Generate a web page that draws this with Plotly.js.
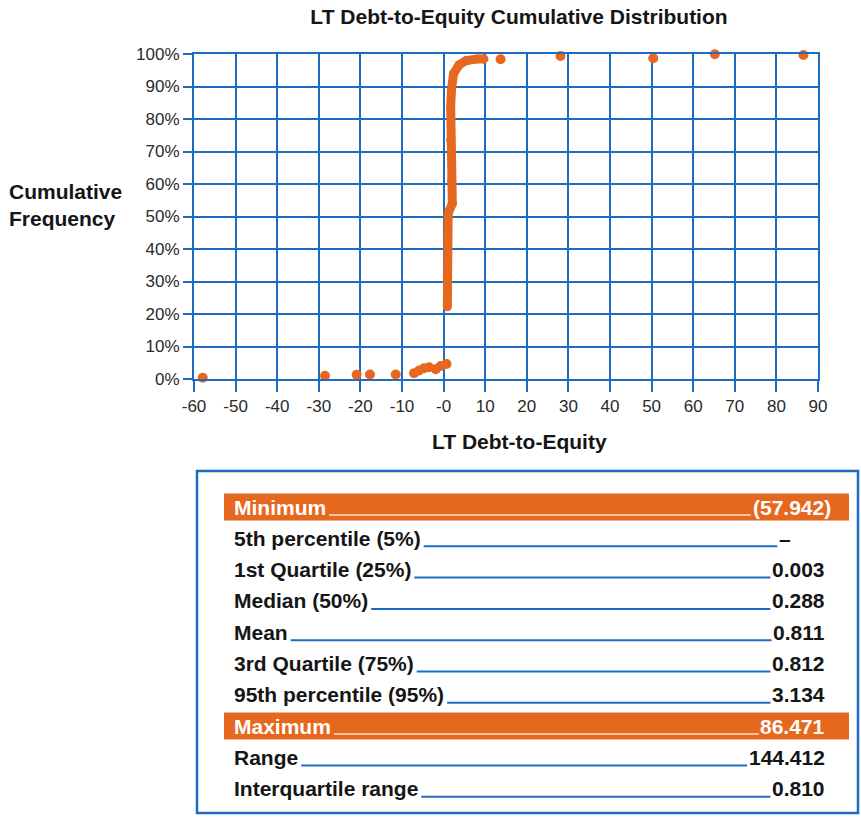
<!DOCTYPE html>
<html>
<head>
<meta charset="utf-8">
<script src="https://cdn.plot.ly/plotly-3.0.1.min.js"></script>
<style>
html,body{margin:0;padding:0;background:#ffffff;}
#chart{width:861px;height:817px;}
</style>
</head>
<body>
<div id="chart"></div>
<script>
// ---------- Data ----------
// Isolated points of the cumulative distribution
const tailX = [-57.9, -28.5, -20.9, -17.7, -11.5, 13.7, 28.1, 50.4, 65.2, 86.5];
const tailY = [0.004, 0.010, 0.013, 0.014, 0.014, 0.984, 0.994, 0.987, 0.999, 0.997];
// Small cluster just below zero
const lowX = [-7.1, -5.9, -4.7, -3.5, -1.9, -0.7, 0.7];
const lowY = [0.018, 0.026, 0.033, 0.036, 0.030, 0.040, 0.046];
// Dense part of the curve near zero
const coreX = [0.9, 0.9, 0.9, 1.1, 2.1, 1.9, 1.7, 1.7, 1.9, 2.4, 3.7, 5.3, 8.1, 9.7];
const coreY = [0.222, 0.325, 0.428, 0.510, 0.540, 0.610, 0.735, 0.838, 0.890, 0.940, 0.966, 0.979, 0.985, 0.985];

// Axis ticks
const xTickVals = [-60, -50, -40, -30, -20, -10, 0, 10, 20, 30, 40, 50, 60, 70, 80, 90];
const xTickText = ['-60', '-50', '-40', '-30', '-20', '-10', '-0', '10', '20', '30', '40', '50', '60', '70', '80', '90'];
const yTickVals = [0, 0.1, 0.2, 0.3, 0.4, 0.5, 0.6, 0.7, 0.8, 0.9, 1.0];
const yTickText = ['0%', '10%', '20%', '30%', '40%', '50%', '60%', '70%', '80%', '90%', '100%'];

// Summary statistics table
const statLabels = ['Minimum', '5th percentile (5%)', '1st Quartile (25%)', 'Median (50%)', 'Mean',
                    '3rd Quartile (75%)', '95th percentile (95%)', 'Maximum', 'Range', 'Interquartile range'];
const statValues = ['(57.942)', '–', '0.003', '0.288', '0.811', '0.812', '3.134', '86.471', '144.412', '0.810'];
const highlightRows = ['Minimum', 'Maximum'];

// ---------- Styling / layout ----------
const W = 861, H = 817;
const M = {l: 194, r: 43, t: 54, b: 438};
const plotW = W - M.l - M.r, plotH = H - M.t - M.b;
const px2x = p => (p - M.l) / plotW;
const py2y = p => (H - M.b - p) / plotH;

const BLUE = '#1d6cc3';
const ORANGE = '#e6681f';
const FONT = "'Liberation Sans', Arial, Helvetica, sans-serif";
const TXT = '#151515';
const BSIZE = 21;

const ctx = document.createElement('canvas').getContext('2d');
ctx.font = "bold " + BSIZE + "px 'Liberation Sans'";
const tw = s => ctx.measureText(s).width;

const traces = [
  {x: coreX, y: coreY, type: 'scatter', mode: 'lines+markers', cliponaxis: false,
   line: {color: ORANGE, width: 9}, marker: {color: ORANGE, size: 9}, hoverinfo: 'x+y'},
  {x: lowX, y: lowY, type: 'scatter', mode: 'markers', cliponaxis: false,
   marker: {color: ORANGE, size: 10}, hoverinfo: 'x+y'},
  {x: tailX, y: tailY, type: 'scatter', mode: 'markers', cliponaxis: false,
   marker: {color: ORANGE, size: 10}, hoverinfo: 'x+y'}
];

const annotations = [
  {text: 'Cumulative<br>Frequency', xref: 'paper', yref: 'paper', x: px2x(7), y: py2y(205),
   xanchor: 'left', yanchor: 'middle', align: 'left', showarrow: false,
   font: {family: FONT, size: BSIZE, weight: 'bold', color: TXT}},
  {text: 'LT Debt-to-Equity', xref: 'paper', yref: 'paper', x: px2x(519), y: py2y(441),
   xanchor: 'center', yanchor: 'middle', showarrow: false,
   font: {family: FONT, size: BSIZE, weight: 'bold', color: TXT}}
];

const shapes = [
  {type: 'rect', xref: 'paper', yref: 'paper', x0: px2x(197), x1: px2x(858), y0: py2y(471), y1: py2y(813),
   line: {color: BLUE, width: 2.5}, fillcolor: 'rgba(0,0,0,0)'}
];

statLabels.forEach((lab, i) => {
  const val = statValues[i];
  const yc = 507 + i * 31.3;
  const hl = highlightRows.includes(lab);
  if (hl) {
    shapes.push({type: 'rect', xref: 'paper', yref: 'paper', x0: px2x(224), x1: px2x(849),
      y0: py2y(yc + 13.5), y1: py2y(yc - 13.5), line: {width: 0}, fillcolor: ORANGE});
  }
  const right = val.startsWith('(') ? 833 : (val === '–' ? 793 : 827);
  annotations.push({text: lab, xref: 'paper', yref: 'paper', x: px2x(232), y: py2y(yc),
    xanchor: 'left', yanchor: 'middle', showarrow: false,
    font: {family: FONT, size: BSIZE, weight: 'bold', color: hl ? '#ffffff' : TXT}});
  annotations.push({text: val, xref: 'paper', yref: 'paper', x: px2x(right), y: py2y(yc),
    xanchor: 'right', yanchor: 'middle', showarrow: false,
    font: {family: FONT, size: BSIZE, weight: 'bold', color: hl ? '#ffffff' : TXT}});
  const lx0 = 234 + tw(lab) + 3;
  const lx1 = right - tw(val) - 4;
  shapes.push({type: 'line', xref: 'paper', yref: 'paper', x0: px2x(lx0), x1: px2x(lx1),
    y0: py2y(yc + 8), y1: py2y(yc + 8),
    line: {color: hl ? '#fbe0cc' : BLUE, width: hl ? 1.5 : 2}});
});

const layout = {
  width: W, height: H,
  margin: M,
  paper_bgcolor: '#ffffff', plot_bgcolor: '#ffffff',
  showlegend: false,
  title: {text: 'LT Debt-to-Equity Cumulative Distribution', xref: 'paper', x: px2x(519), xanchor: 'center',
          yref: 'container', y: 1 - 17 / H, yanchor: 'middle',
          font: {family: FONT, size: BSIZE, weight: 'bold', color: TXT}},
  xaxis: {range: [-60, 90], tickvals: xTickVals, ticktext: xTickText,
          ticks: 'outside', ticklen: 11, tickwidth: 2, tickcolor: BLUE,
          showgrid: true, gridcolor: BLUE, gridwidth: 2, zeroline: false,
          showline: true, mirror: true, linecolor: BLUE, linewidth: 2,
          tickfont: {family: FONT, size: 17, color: '#2a2a2a'}, fixedrange: true},
  yaxis: {range: [0, 1], tickvals: yTickVals, ticktext: yTickText,
          ticks: 'outside', ticklen: 9, tickwidth: 2, tickcolor: BLUE,
          showgrid: true, gridcolor: BLUE, gridwidth: 2, zeroline: false,
          showline: true, mirror: true, linecolor: BLUE, linewidth: 2,
          tickfont: {family: FONT, size: 17, color: '#2a2a2a'}, fixedrange: true},
  annotations: annotations,
  shapes: shapes
};

Plotly.newPlot('chart', traces, layout, {displayModeBar: false, staticPlot: true});
</script>
</body>
</html>
